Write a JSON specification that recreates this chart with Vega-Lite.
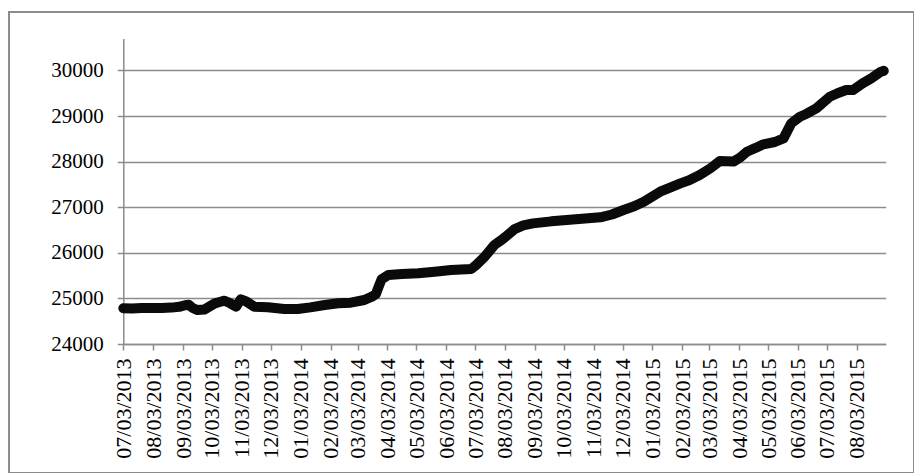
{
  "$schema": "https://vega.github.io/schema/vega-lite/v6.json",
  "autosize": {"type": "none"},
  "padding": {"left": 9, "top": 12, "right": 0, "bottom": 0},
  "width": 905,
  "height": 461,
  "background": "white",
  "config": {
    "view": {"stroke": "#8c8c8c", "strokeWidth": 2},
    "axis": {"labelFont": "Liberation Serif, DejaVu Serif, serif", "labelColor": "#000000", "domainColor": "#8c8c8c", "tickColor": "#8c8c8c", "gridColor": "#8c8c8c", "domainWidth": 1.5, "tickWidth": 1.5, "gridWidth": 1.5}
  },
  "data": {
    "values": [
      {"date": "2013-07-03", "value": 24783},
      {"date": "2013-07-12", "value": 24780},
      {"date": "2013-07-22", "value": 24788},
      {"date": "2013-08-01", "value": 24790},
      {"date": "2013-08-12", "value": 24792},
      {"date": "2013-08-22", "value": 24798},
      {"date": "2013-08-30", "value": 24815},
      {"date": "2013-09-05", "value": 24850},
      {"date": "2013-09-09", "value": 24860},
      {"date": "2013-09-13", "value": 24790},
      {"date": "2013-09-18", "value": 24745},
      {"date": "2013-09-25", "value": 24755},
      {"date": "2013-10-01", "value": 24830},
      {"date": "2013-10-06", "value": 24890},
      {"date": "2013-10-11", "value": 24920},
      {"date": "2013-10-16", "value": 24950},
      {"date": "2013-10-22", "value": 24892},
      {"date": "2013-10-28", "value": 24818},
      {"date": "2013-11-02", "value": 24980},
      {"date": "2013-11-08", "value": 24928},
      {"date": "2013-11-16", "value": 24818},
      {"date": "2013-11-30", "value": 24804},
      {"date": "2013-12-17", "value": 24767},
      {"date": "2013-12-31", "value": 24767},
      {"date": "2014-01-13", "value": 24804},
      {"date": "2014-01-28", "value": 24855},
      {"date": "2014-02-11", "value": 24892},
      {"date": "2014-02-24", "value": 24906},
      {"date": "2014-03-10", "value": 24965},
      {"date": "2014-03-18", "value": 25040},
      {"date": "2014-03-22", "value": 25090},
      {"date": "2014-03-25", "value": 25260},
      {"date": "2014-03-28", "value": 25420},
      {"date": "2014-04-04", "value": 25513},
      {"date": "2014-04-18", "value": 25535},
      {"date": "2014-05-05", "value": 25550},
      {"date": "2014-05-22", "value": 25586},
      {"date": "2014-06-08", "value": 25623},
      {"date": "2014-06-29", "value": 25645},
      {"date": "2014-07-04", "value": 25732},
      {"date": "2014-07-13", "value": 25915},
      {"date": "2014-07-23", "value": 26171},
      {"date": "2014-07-29", "value": 26260},
      {"date": "2014-08-03", "value": 26340},
      {"date": "2014-08-13", "value": 26520},
      {"date": "2014-08-22", "value": 26600},
      {"date": "2014-09-01", "value": 26645},
      {"date": "2014-09-20", "value": 26690},
      {"date": "2014-10-06", "value": 26719},
      {"date": "2014-10-25", "value": 26750},
      {"date": "2014-11-10", "value": 26778},
      {"date": "2014-11-22", "value": 26840},
      {"date": "2014-12-04", "value": 26939},
      {"date": "2014-12-15", "value": 27020},
      {"date": "2014-12-25", "value": 27121},
      {"date": "2015-01-11", "value": 27340},
      {"date": "2015-01-20", "value": 27420},
      {"date": "2015-02-01", "value": 27523},
      {"date": "2015-02-10", "value": 27590},
      {"date": "2015-02-21", "value": 27706},
      {"date": "2015-03-04", "value": 27852},
      {"date": "2015-03-14", "value": 28013},
      {"date": "2015-03-28", "value": 28000},
      {"date": "2015-04-04", "value": 28090},
      {"date": "2015-04-11", "value": 28217},
      {"date": "2015-04-20", "value": 28300},
      {"date": "2015-04-28", "value": 28379},
      {"date": "2015-05-10", "value": 28430},
      {"date": "2015-05-19", "value": 28509},
      {"date": "2015-05-27", "value": 28838},
      {"date": "2015-06-05", "value": 28984},
      {"date": "2015-06-12", "value": 29050},
      {"date": "2015-06-22", "value": 29167},
      {"date": "2015-07-06", "value": 29423},
      {"date": "2015-07-14", "value": 29500},
      {"date": "2015-07-23", "value": 29570},
      {"date": "2015-07-30", "value": 29570},
      {"date": "2015-08-09", "value": 29716},
      {"date": "2015-08-18", "value": 29826},
      {"date": "2015-08-28", "value": 29972},
      {"date": "2015-08-31", "value": 29990}
    ]
  },
  "mark": {"type": "line", "color": "#0a0a0a", "strokeWidth": 10, "strokeCap": "round", "strokeJoin": "round"},
  "encoding": {
    "x": {
      "field": "date",
      "type": "temporal",
      "scale": {
        "type": "utc",
        "domain": [{"year": 2013, "month": 7, "date": 3, "utc": true}, {"year": 2015, "month": 9, "date": 2, "utc": true}],
        "range": [114.3, 876.7]
      },
      "axis": {
        "title": null,
        "offset": -129,
        "grid": false,
        "format": "%m/%d/%Y",
        "labelFont": "Liberation Serif, DejaVu Serif, serif",
        "labelAngle": 270,
        "labelAlign": "right",
        "labelBaseline": "middle",
        "labelFontSize": 22,
        "labelPadding": 8,
        "tickSize": 6,
        "labelOverlap": false,
        "labelFlush": false,
        "labelBound": false,
        "values": [
          {"year": 2013, "month": 7, "date": 3, "utc": true},
          {"year": 2013, "month": 8, "date": 3, "utc": true},
          {"year": 2013, "month": 9, "date": 3, "utc": true},
          {"year": 2013, "month": 10, "date": 3, "utc": true},
          {"year": 2013, "month": 11, "date": 3, "utc": true},
          {"year": 2013, "month": 12, "date": 3, "utc": true},
          {"year": 2014, "month": 1, "date": 3, "utc": true},
          {"year": 2014, "month": 2, "date": 3, "utc": true},
          {"year": 2014, "month": 3, "date": 3, "utc": true},
          {"year": 2014, "month": 4, "date": 3, "utc": true},
          {"year": 2014, "month": 5, "date": 3, "utc": true},
          {"year": 2014, "month": 6, "date": 3, "utc": true},
          {"year": 2014, "month": 7, "date": 3, "utc": true},
          {"year": 2014, "month": 8, "date": 3, "utc": true},
          {"year": 2014, "month": 9, "date": 3, "utc": true},
          {"year": 2014, "month": 10, "date": 3, "utc": true},
          {"year": 2014, "month": 11, "date": 3, "utc": true},
          {"year": 2014, "month": 12, "date": 3, "utc": true},
          {"year": 2015, "month": 1, "date": 3, "utc": true},
          {"year": 2015, "month": 2, "date": 3, "utc": true},
          {"year": 2015, "month": 3, "date": 3, "utc": true},
          {"year": 2015, "month": 4, "date": 3, "utc": true},
          {"year": 2015, "month": 5, "date": 3, "utc": true},
          {"year": 2015, "month": 6, "date": 3, "utc": true},
          {"year": 2015, "month": 7, "date": 3, "utc": true},
          {"year": 2015, "month": 8, "date": 3, "utc": true}
        ]
      }
    },
    "y": {
      "field": "value",
      "type": "quantitative",
      "scale": {"domain": [24000, 30700], "range": [332, 26.5], "nice": false, "zero": false},
      "axis": {
        "title": null,
        "offset": -114.3,
        "grid": true,
        "values": [24000, 25000, 26000, 27000, 28000, 29000, 30000],
        "format": "d",
        "labelFont": "Liberation Serif, DejaVu Serif, serif",
        "labelFontSize": 21,
        "labelPadding": 14,
        "tickSize": 6,
        "labelOverlap": false,
        "labelFlush": false
      }
    }
  }
}
